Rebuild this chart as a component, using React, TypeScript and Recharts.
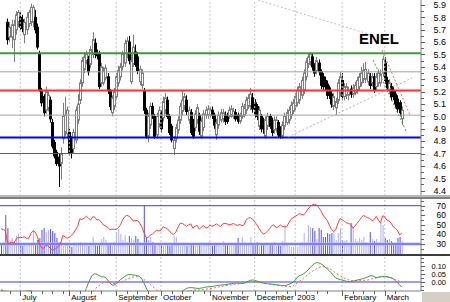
import React from 'react';
import { ComposedChart, Bar, Line, XAxis, YAxis, ReferenceLine, Cell } from 'recharts';

// ---------- DATA ----------
// candles: [open, high, low, close]
const juneBars = [
  [6.02, 6.06, 5.97, 5.99], [5.99, 6.03, 5.96, 6.0], [6.0, 6.02, 5.95, 5.96],
  [5.76, 5.79, 5.58, 5.62], [5.64, 5.76, 5.6, 5.72], [5.64, 5.78, 5.55, 5.74],
  [5.62, 5.78, 5.44, 5.74], [5.7, 5.85, 5.66, 5.82], [5.76, 5.86, 5.72, 5.84],
];
const julyBars = [
  [5.8, 5.84, 5.7, 5.72], [5.78, 5.82, 5.68, 5.71], [5.66, 5.79, 5.59, 5.76], [5.7, 5.84, 5.66, 5.8],
  [5.75, 5.86, 5.72, 5.84], [5.76, 5.91, 5.73, 5.88], [5.76, 5.9, 5.72, 5.88], [5.8, 5.86, 5.67, 5.7],
  [5.72, 5.75, 5.54, 5.56], [5.5, 5.53, 5.2, 5.22], [5.21, 5.23, 5.08, 5.11], [5.16, 5.18, 5.0, 5.03],
  [5.05, 5.24, 5.02, 5.2], [5.07, 5.2, 5.04, 5.17], [5.13, 5.16, 4.95, 4.98], [4.95, 4.98, 4.74, 4.76],
  [4.79, 4.81, 4.66, 4.68], [4.71, 4.73, 4.6, 4.62], [4.67, 4.7, 4.43, 4.6], [4.62, 4.75, 4.49, 4.7],
  [4.82, 5.11, 4.78, 5.0], [4.87, 5.16, 4.84, 5.01], [4.86, 5.08, 4.82, 5.05],
];
const augBars = [
  [4.87, 4.9, 4.68, 4.71], [4.81, 4.84, 4.66, 4.71], [4.74, 4.9, 4.7, 4.87], [4.81, 5.08, 4.78, 5.05],
  [4.97, 5.18, 4.94, 5.1], [5.13, 5.3, 5.1, 5.27], [5.27, 5.48, 5.24, 5.45], [5.38, 5.52, 5.35, 5.48],
  [5.45, 5.53, 5.42, 5.5], [5.46, 5.49, 5.33, 5.36], [5.42, 5.57, 5.39, 5.54], [5.5, 5.68, 5.47, 5.62],
  [5.59, 5.63, 5.47, 5.5], [5.51, 5.54, 5.46, 5.49], [5.51, 5.53, 5.22, 5.24], [5.27, 5.43, 5.24, 5.4],
  [5.27, 5.4, 5.25, 5.37], [5.31, 5.42, 5.29, 5.39], [5.32, 5.35, 5.18, 5.21], [5.2, 5.22, 5.05, 5.08],
  [5.03, 5.17, 5.0, 5.15], [5.08, 5.23, 5.05, 5.2],
];
const sepBars = [
  [5.16, 5.35, 5.13, 5.32], [5.27, 5.41, 5.24, 5.37], [5.32, 5.43, 5.29, 5.4], [5.4, 5.53, 5.37, 5.5],
  [5.43, 5.62, 5.4, 5.59], [5.5, 5.64, 5.47, 5.61], [5.6, 5.65, 5.42, 5.45], [5.28, 5.5, 5.26, 5.45],
  [5.42, 5.66, 5.4, 5.56], [5.52, 5.58, 5.4, 5.42], [5.48, 5.52, 5.34, 5.37], [5.28, 5.41, 5.25, 5.38],
  [5.25, 5.38, 5.22, 5.35], [5.2, 5.23, 5.02, 5.05], [5.05, 5.07, 4.82, 4.84], [4.84, 5.03, 4.79, 5.0],
  [4.93, 5.11, 4.9, 5.08], [5.08, 5.11, 4.98, 5.01], [5.0, 5.02, 4.82, 4.84], [4.85, 5.03, 4.82, 5.0],
  [4.94, 5.08, 4.91, 5.05],
];
const octBars = [
  [5.02, 5.05, 4.87, 4.9], [4.99, 5.16, 4.96, 5.12], [5.05, 5.19, 5.02, 5.15], [5.13, 5.16, 4.98, 5.0],
  [5.0, 5.02, 4.85, 4.87], [4.92, 4.94, 4.79, 4.81], [4.74, 4.84, 4.69, 4.81], [4.82, 4.94, 4.79, 4.91],
  [4.89, 5.0, 4.86, 4.97], [4.97, 5.11, 4.94, 5.08], [5.04, 5.21, 5.01, 5.13], [5.08, 5.19, 5.05, 5.16],
  [5.13, 5.17, 5.01, 5.04], [4.97, 5.08, 4.94, 5.05], [5.03, 5.06, 4.85, 4.87], [4.95, 4.98, 4.82, 4.84],
  [4.91, 5.05, 4.88, 5.02], [4.97, 5.1, 4.94, 5.07], [5.01, 5.03, 4.85, 4.88], [4.84, 4.99, 4.82, 4.96],
  [4.91, 5.05, 4.88, 5.02], [5.01, 5.08, 4.98, 5.05], [5.01, 5.09, 4.98, 5.06],
];
const novBars = [
  [5.01, 5.08, 4.99, 5.05], [5.05, 5.08, 4.98, 5.01], [5.01, 5.03, 4.9, 4.93], [4.85, 4.98, 4.81, 4.95],
  [4.93, 5.04, 4.9, 5.01], [4.97, 5.06, 4.95, 5.03], [4.98, 5.06, 4.95, 5.03], [5.01, 5.04, 4.93, 4.96],
  [5.0, 5.03, 4.94, 4.96], [5.0, 5.08, 4.98, 5.05], [5.01, 5.09, 4.99, 5.06], [5.0, 5.07, 4.98, 5.04],
  [5.03, 5.06, 4.96, 4.98], [5.01, 5.03, 4.94, 4.96], [4.96, 5.03, 4.94, 5.0], [5.0, 5.11, 4.98, 5.08],
  [5.01, 5.1, 4.99, 5.07], [5.05, 5.16, 5.02, 5.13], [5.08, 5.18, 5.06, 5.15], [5.08, 5.23, 5.05, 5.18],
  [5.15, 5.19, 5.03, 5.06],
];
const decBars = [
  [5.11, 5.14, 4.99, 5.01], [5.08, 5.1, 4.97, 5.0], [4.92, 5.08, 4.89, 5.05], [5.0, 5.02, 4.87, 4.9],
  [4.97, 4.99, 4.86, 4.9], [4.84, 5.0, 4.82, 4.97], [4.92, 5.03, 4.89, 5.0], [5.0, 5.02, 4.9, 4.92],
  [4.96, 4.99, 4.84, 4.87], [4.89, 5.0, 4.86, 4.97], [4.9, 5.0, 4.87, 4.97], [4.95, 4.97, 4.83, 4.85],
  [4.9, 4.92, 4.82, 4.84], [4.84, 4.96, 4.82, 4.93], [4.92, 5.03, 4.89, 5.0], [4.95, 5.06, 4.93, 5.03],
  [4.97, 5.08, 4.94, 5.05], [5.01, 5.12, 4.98, 5.09], [5.04, 5.14, 5.02, 5.11],
];
const janBars = [
  [5.08, 5.19, 5.05, 5.16], [5.11, 5.24, 5.08, 5.21], [5.13, 5.27, 5.1, 5.24], [5.17, 5.32, 5.14, 5.29],
  [5.21, 5.38, 5.18, 5.35], [5.32, 5.47, 5.29, 5.44], [5.42, 5.51, 5.39, 5.48], [5.44, 5.52, 5.41, 5.5],
  [5.48, 5.51, 5.37, 5.4], [5.4, 5.43, 5.32, 5.35], [5.37, 5.48, 5.34, 5.45], [5.43, 5.46, 5.33, 5.36],
  [5.36, 5.38, 5.22, 5.25], [5.32, 5.35, 5.21, 5.24], [5.29, 5.32, 5.21, 5.24], [5.26, 5.29, 5.14, 5.17],
  [5.23, 5.25, 5.14, 5.17], [5.18, 5.21, 5.07, 5.1], [5.08, 5.19, 5.05, 5.16], [5.07, 5.15, 5.01, 5.12],
  [5.13, 5.3, 5.1, 5.27], [5.19, 5.36, 5.16, 5.32],
];
const febBars = [
  [5.29, 5.35, 5.13, 5.16], [5.16, 5.27, 5.13, 5.24], [5.17, 5.27, 5.14, 5.24], [5.17, 5.24, 5.13, 5.21],
  [5.22, 5.25, 5.15, 5.18], [5.18, 5.26, 5.15, 5.23], [5.19, 5.28, 5.17, 5.25], [5.21, 5.32, 5.18, 5.29],
  [5.24, 5.35, 5.21, 5.32], [5.27, 5.4, 5.24, 5.35], [5.3, 5.43, 5.27, 5.37], [5.3, 5.44, 5.27, 5.38],
  [5.28, 5.38, 5.25, 5.35], [5.32, 5.35, 5.22, 5.25], [5.27, 5.35, 5.24, 5.32], [5.32, 5.35, 5.19, 5.21],
  [5.24, 5.35, 5.21, 5.32], [5.27, 5.38, 5.24, 5.35], [5.27, 5.38, 5.24, 5.34], [5.35, 5.49, 5.32, 5.46],
];
const marBars = [
  [5.43, 5.48, 5.26, 5.29], [5.29, 5.32, 5.2, 5.23], [5.21, 5.3, 5.18, 5.27], [5.24, 5.27, 5.13, 5.16],
  [5.21, 5.24, 5.13, 5.16], [5.18, 5.21, 5.07, 5.1], [5.14, 5.17, 5.03, 5.06], [5.11, 5.13, 5.0, 5.03],
  [4.98, 5.08, 4.93, 5.05],
];

const volume = [
  10, 12, 39, 26, 14, 16, 13, 18, 20, 9, 8, 10, 8, 9, 11, 23, 10, 14, 16, 24,
  26, 22, 24, 25, 23, 21, 16, 12, 9, 8, 10, 9, 10, 7, 9, 10, 9, 12, 10, 9,
  11, 8, 10, 17, 9, 8, 10, 15, 17, 14, 9, 10, 8, 12, 22, 25, 20, 14, 19, 12,
  18, 16, 14, 18, 15, 12, 10, 48, 16, 14, 17, 12, 9, 8, 10, 9, 8, 9, 11, 8,
  10, 18, 17, 9, 8, 10, 9, 8, 11, 9, 10, 8, 9, 11, 8, 10, 9, 12, 10, 8,
  9, 10, 9, 8, 13, 9, 10, 8, 9, 10, 10, 16, 11, 17, 12, 10, 11, 17, 10, 9,
  12, 8, 10, 9, 11, 8, 10, 9, 12, 8, 9, 8, 13, 29, 10, 8, 7, 7, 8, 7,
  11, 12, 21, 12, 29, 27, 26, 23, 15, 26, 24, 17, 17, 21, 20, 21, 22, 14, 21, 26,
  14, 13, 14, 9, 31, 26, 15, 13, 16, 14, 17, 12, 11, 22, 15, 13, 15, 12, 31, 29,
  16, 14, 15, 13, 9, 10, 16, 17, 13,
];

const rsi = [
  46, 45, 44, 31, 31, 32, 31, 35, 37, 36.5, 37, 37.5, 36, 36, 41, 44, 42.5, 38, 30, 26,
  25.5, 28.5, 28, 25.5, 24, 24, 25.5, 28, 31, 39, 37.5, 36, 37, 39, 41.5, 45, 49, 56.5, 55.5, 57,
  59, 57, 55, 58.5, 58, 55, 55.5, 53, 49.8, 49, 47.5, 45, 45.5, 45.5, 45, 47, 50, 55, 58.5, 60,
  59, 57, 54, 54.5, 54.5, 52, 48, 42, 37, 36.5, 39.4, 40.5, 42.5, 44.5, 43.5, 44.5, 48, 47, 46, 43.5,
  41, 40, 42.5, 47.5, 51.6, 51.6, 50, 48.5, 50, 51, 46.5, 48.5, 49.5, 45.5, 47.5, 49.5, 47, 47, 49.8, 48.5,
  49.5, 51, 49.5, 48.2, 51, 51.6, 51, 50, 50.5, 51.5, 50, 49.5, 50.5, 49, 50, 55.5, 57, 57.5, 56, 53,
  50, 46.5, 43, 40.2, 41.5, 43.3, 46, 49.2, 50, 47, 47.8, 49.8, 48.3, 48, 48.1, 52, 55.8, 57.5, 59, 60.3,
  61.7, 60.8, 60.5, 63.3, 66.5, 69, 71, 71.3, 70.8, 68, 65, 60.2, 57.5, 54.5, 49.7, 45.2, 43, 45, 51, 56.5,
  55.5, 53.8, 52, 51.6, 50.5, 46.5, 48.8, 51.6, 54.3, 57.6, 60, 58.5, 57.4, 56.8, 54.3, 55.5, 58.8, 55, 52, 59.5,
  58.5, 55, 54, 51.8, 48, 46.3, 44, 39.5, 41.5,
];

const macd = [
  -0.05, -0.055, -0.06, -0.065, -0.07, -0.07, -0.07, -0.068, -0.065, -0.063,
  -0.06, -0.058, -0.056, -0.055, -0.055, -0.06, -0.07, -0.085, -0.1, -0.12,
  -0.14, -0.155, -0.17, -0.185, -0.2, -0.21, -0.215, -0.21, -0.2, -0.19,
  -0.18, -0.17, -0.16, -0.15, -0.14, -0.13, -0.12, -0.105, -0.09, -0.07,
  -0.04, -0.005, 0.025, 0.045, 0.052, 0.048, 0.04, 0.033, 0.032, 0.028,
  0.012, -0.005, -0.018, -0.02, -0.01, 0.002, 0.015, 0.025, 0.035, 0.043,
  0.046, 0.046, 0.044, 0.042, 0.04, 0.034, 0.02, -0.005, -0.035, -0.06,
  -0.08, -0.095, -0.1, -0.1, -0.1, -0.098, -0.095, -0.095, -0.095, -0.092,
  -0.09, -0.085, -0.08, -0.07, -0.063, -0.056, -0.048, -0.04, -0.036, -0.035,
  -0.036, -0.038, -0.04, -0.04, -0.038, -0.035, -0.032, -0.03, -0.03, -0.028,
  -0.025, -0.023, -0.021, -0.02, -0.018, -0.017, -0.015, -0.012, -0.01, -0.008,
  -0.007, -0.007, -0.008, -0.008, -0.008, -0.002, 0.005, 0.01, 0.0125, 0.011,
  0.006, 0.001, -0.003, -0.007, -0.009, -0.011, -0.013, -0.014, -0.015, -0.017,
  -0.019, -0.021, -0.023, -0.022, -0.02, -0.015, -0.008, -0.002, 0.012, 0.03,
  0.04, 0.045, 0.052, 0.062, 0.075, 0.09, 0.104, 0.115, 0.121, 0.12,
  0.114, 0.106, 0.093, 0.082, 0.07, 0.056, 0.04, 0.025, 0.02, 0.015,
  0.0125, 0.008, 0.005, 0.003, 0.002, 0.004, 0.008, 0.012, 0.015, 0.018,
  0.022, 0.026, 0.032, 0.038, 0.04, 0.034, 0.027, 0.03, 0.033, 0.034,
  0.034, 0.033, 0.03, 0.026, 0.02, 0.008, -0.002, -0.02, -0.03,
];

const signal = [
  -0.05, -0.052, -0.055, -0.057, -0.06, -0.062, -0.064, -0.065, -0.065, -0.065,
  -0.064, -0.063, -0.062, -0.061, -0.06, -0.06, -0.062, -0.066, -0.072, -0.08,
  -0.09, -0.1, -0.11, -0.12, -0.13, -0.14, -0.15, -0.158, -0.165, -0.17,
  -0.172, -0.172, -0.17, -0.167, -0.163, -0.158, -0.152, -0.145, -0.135, -0.122,
  -0.108, -0.092, -0.076, -0.06, -0.046, -0.033, -0.021, -0.012, -0.005, -0.001,
  0.0, -0.003, -0.008, -0.01, -0.008, -0.004, 0.0, 0.005, 0.011, 0.017,
  0.023, 0.028, 0.032, 0.033, 0.032, 0.03, 0.024, 0.016, 0.006, -0.005,
  -0.015, -0.027, -0.038, -0.05, -0.058, -0.065, -0.07, -0.074, -0.077, -0.079,
  -0.08, -0.08, -0.079, -0.077, -0.074, -0.07, -0.065, -0.06, -0.056, -0.053,
  -0.051, -0.05, -0.05, -0.05, -0.049, -0.047, -0.045, -0.043, -0.041, -0.04,
  -0.037, -0.034, -0.031, -0.028, -0.026, -0.024, -0.022, -0.02, -0.018, -0.015,
  -0.013, -0.012, -0.011, -0.01, -0.008, -0.005, -0.002, 0.001, 0.002, 0.002,
  0.001, -0.001, -0.003, -0.006, -0.008, -0.01, -0.012, -0.014, -0.016, -0.018,
  -0.02, -0.022, -0.024, -0.026, -0.028, -0.029, -0.03, -0.024, -0.014, -0.005,
  0.005, 0.015, 0.025, 0.036, 0.047, 0.058, 0.067, 0.075, 0.083, 0.09,
  0.095, 0.096, 0.094, 0.09, 0.083, 0.075, 0.066, 0.056, 0.047, 0.039,
  0.032, 0.024, 0.019, 0.014, 0.01, 0.008, 0.007, 0.006, 0.007, 0.008,
  0.01, 0.011, 0.0125, 0.016, 0.02, 0.023, 0.026, 0.028, 0.03, 0.032,
  0.033, 0.033, 0.031, 0.027, 0.021, 0.016, 0.01, 0.004, -0.002,
];

const monthLabels = ['July', 'August', 'September', 'October', 'November', 'December', '2003', 'February', 'March'];
const monthStarts = [9, 32, 54, 75, 98, 119, 138, 160, 180];
const weekTicks = [4, 9, 14, 19, 24, 29, 32, 37, 42, 47, 54, 59, 64, 69, 75, 80, 85, 90, 95, 98, 103, 108, 113, 119, 124, 129, 134, 138, 143, 148, 153, 160, 165, 170, 175, 180, 185];

const priceTicks = [4.4, 4.45, 4.5, 4.55, 4.6, 4.65, 4.7, 4.75, 4.8, 4.85, 4.9, 4.95, 5.0, 5.05, 5.1, 5.15, 5.2, 5.25, 5.3, 5.35, 5.4, 5.45, 5.5, 5.55, 5.6, 5.65, 5.7, 5.75, 5.8, 5.85, 5.9];
const priceLabels = [4.4, 4.5, 4.6, 4.7, 4.8, 4.9, 5.0, 5.1, 5.2, 5.3, 5.4, 5.5, 5.6, 5.7, 5.8, 5.9];
const rsiTicks = [25, 30, 35, 40, 45, 50, 55, 60, 65, 70, 75];
const rsiLabels = [30, 40, 50, 60, 70];
const macdTicks = [-0.05, -0.025, 0, 0.025, 0.05, 0.075, 0.1, 0.125, 0.15];
const macdLabels = [0, 0.05, 0.1];

// horizontal support / resistance levels
const resistanceHigh = 5.51;
const grayUpper = 5.36;
const resistanceLow = 5.21;
const grayLower = 5.01;
const supportHigh = 4.83;
const supportLow = 4.7;
// trend lines [x1, y1, x2, y2] in (bar index, price)
const trendDown = [120.5, 5.94, 173.1, 5.661];
const trendUp = [134.6, 4.833, 192.8, 5.31];
const fanGreen = [174.5, 5.455, 190.4, 4.866];
const fanRed = [178.7, 5.536, 191.8, 5.011];

// ---------- BUILD ----------
const allBars = [...juneBars, ...julyBars, ...augBars, ...sepBars, ...octBars, ...novBars, ...decBars, ...janBars, ...febBars, ...marBars];
const data = allBars.map((b, i) => ({
  i, o: b[0], h: b[1], l: b[2], c: b[3], range: [b[2], b[1]],
  vol: volume[i], rsi: rsi[i], macd: macd[i], sig: signal[i],
}));

const X_DOMAIN: [number, number] = [-0.5, 197];
const FONT = '"Liberation Sans", Arial, sans-serif';
const AXIS_X = 421;

const Candle = (props: any) => {
  const { x, y, width, height, payload } = props;
  if (!payload) return null;
  const { o, h, l, c } = payload;
  const top = Math.min(y, y + height);
  const bot = Math.max(y, y + height);
  const span = h - l || 1;
  const py = (v: number) => bot - ((v - l) / span) * (bot - top);
  const cx = Math.round(x + width / 2) + 0.5;
  const up = c >= o;
  const col = up ? '#7c7c7c' : '#000000';
  const yo = py(o);
  const yc = py(c);
  const bt = Math.min(yo, yc);
  const bh = Math.max(1, Math.abs(yo - yc));
  return (
    <g>
      <line x1={cx} x2={cx} y1={top} y2={bot} stroke={col} strokeWidth={1} />
      <rect x={cx - 1} y={bt} width={2} height={bh} fill={up ? '#ffffff' : '#000000'} stroke={col} strokeWidth={1} />
    </g>
  );
};

const makeRightTick = (labels: number[], digits: number, fs: number) => (p: any) => {
  const v = p.payload.value;
  const isLabel = labels.some((l) => Math.abs(l - v) < 1e-6);
  const yy = Math.round(p.y) + 0.5;
  return (
    <g>
      <line x1={AXIS_X} x2={AXIS_X + (isLabel ? 4 : 3)} y1={yy} y2={yy} stroke="#606060" strokeWidth={1} />
      {isLabel && (
        <text x={446} y={p.y + fs * 0.36} textAnchor="end" fontSize={fs} fontFamily={FONT} fill="#000">
          {v.toFixed(digits)}
        </text>
      )}
    </g>
  );
};

const XTick = (p: any) => {
  const v = p.payload.value;
  const mi = monthStarts.indexOf(v);
  const xx = Math.round(p.x) + 0.5;
  return (
    <g>
      <line x1={xx} x2={xx} y1={35} y2={mi >= 0 ? 40 : 38} stroke="#606060" strokeWidth={1} />
      {mi >= 0 && (
        <text x={p.x + 2} y={44} textAnchor="start" fontSize={8} fontFamily={FONT} fill="#000">
          {monthLabels[mi]}
        </text>
      )}
    </g>
  );
};

const monthGrid = (yAxisId?: string) =>
  monthStarts.map((m) => (
    <ReferenceLine key={'g' + m} x={m} yAxisId={yAxisId} stroke="#c4c4c4" strokeDasharray="2 2" strokeWidth={1} />
  ));

const seg = (t: number[], color: string, key: string) => (
  <ReferenceLine
    key={key}
    segment={[{ x: t[0], y: t[1] }, { x: t[2], y: t[3] }]}
    stroke={color}
    strokeDasharray="2 2"
    strokeWidth={1}
    ifOverflow="hidden"
  />
);

export default function App() {
  return (
    <div style={{ position: 'absolute', left: 0, top: 0, width: 450, height: 302, background: '#fff', overflow: 'hidden', fontFamily: FONT }}>
      {/* Price panel */}
      <div style={{ position: 'absolute', left: 0, top: 0 }}>
        <ComposedChart width={450} height={196} data={data} margin={{ top: 0, right: 0, bottom: 0, left: 0 }}>
          <XAxis dataKey="i" type="number" domain={X_DOMAIN} allowDataOverflow hide />
          <YAxis
            orientation="right"
            width={29}
            domain={[4.357, 5.94]}
            allowDataOverflow
            ticks={priceTicks}
            interval={0}
            tickLine={false}
            axisLine={{ stroke: '#808080' }}
            tick={makeRightTick(priceLabels, 1, 9)}
          />
          {monthGrid()}
          <Bar dataKey="range" barSize={3} shape={<Candle />} isAnimationActive={false} />
          <ReferenceLine y={resistanceHigh} stroke="#3c9c3c" strokeWidth={2} />
          <ReferenceLine y={grayUpper} stroke="#a4a4a4" strokeWidth={1} />
          <ReferenceLine y={resistanceLow} stroke="#ff3030" strokeWidth={2} />
          <ReferenceLine y={grayLower} stroke="#a4a4a4" strokeWidth={1} />
          <ReferenceLine y={supportHigh} stroke="#0000ff" strokeWidth={2} />
          <ReferenceLine y={supportLow} stroke="#4646ff" strokeWidth={1} />
          {seg(trendDown, '#bdbdbd', 't1')}
          {seg(trendUp, '#b4b4b4', 't2')}
          {seg(fanGreen, '#3ca03c', 't3')}
          {seg(fanRed, '#ff6060', 't4')}
        </ComposedChart>
      </div>
      <svg style={{ position: 'absolute', left: 0, top: 0 }} width={450} height={60}>
        <text x={359} y={44} fontSize={15} fontWeight="bold" fontFamily={FONT} fill="#000">ENEL</text>
      </svg>

      {/* separator */}
      <div style={{ position: 'absolute', left: 0, top: 195, width: 450, height: 2, background: '#b8b8b8' }} />
      <div style={{ position: 'absolute', left: 0, top: 197, width: 450, height: 2, background: '#808080' }} />

      {/* RSI + volume panel */}
      <div style={{ position: 'absolute', left: 0, top: 199 }}>
        <ComposedChart width={450} height={55} data={data} margin={{ top: 0, right: 0, bottom: 0, left: 0 }}>
          <XAxis dataKey="i" type="number" domain={X_DOMAIN} allowDataOverflow hide />
          <YAxis
            yAxisId="rsi"
            orientation="right"
            width={29}
            domain={[19.56, 77.0]}
            allowDataOverflow
            ticks={rsiTicks}
            interval={0}
            tickLine={false}
            axisLine={{ stroke: '#808080' }}
            tick={makeRightTick(rsiLabels, 0, 8.5)}
          />
          <YAxis yAxisId="vol" hide domain={[0, 55]} allowDataOverflow />
          {monthGrid('rsi')}
          <Bar yAxisId="vol" dataKey="vol" barSize={1} isAnimationActive={false}>
            {data.map((d) => (
              <Cell key={d.i} fill={d.c < d.o ? '#5050f0' : '#aeaef4'} />
            ))}
          </Bar>
          <ReferenceLine yAxisId="rsi" y={30} stroke="#bcbcff" strokeWidth={3} />
          <ReferenceLine yAxisId="rsi" y={30} stroke="#4040ff" strokeWidth={1} />
          <ReferenceLine yAxisId="rsi" y={70} stroke="#3838ff" strokeWidth={1} />
          <Line yAxisId="rsi" dataKey="rsi" stroke="#ff3c3c" strokeWidth={1} dot={false} isAnimationActive={false} />
        </ComposedChart>
      </div>

      <div style={{ position: 'absolute', left: 0, top: 254, width: 450, height: 2, background: '#3c3c3c' }} />

      {/* MACD panel */}
      <div style={{ position: 'absolute', left: 0, top: 256 }}>
        <ComposedChart width={450} height={46} data={data} margin={{ top: 0, right: 0, bottom: 0, left: 0 }}>
          <XAxis
            dataKey="i"
            type="number"
            domain={X_DOMAIN}
            allowDataOverflow
            ticks={weekTicks}
            interval={0}
            height={11}
            tickLine={false}
            axisLine={{ stroke: '#808080' }}
            tick={<XTick />}
          />
          <YAxis
            orientation="right"
            width={29}
            domain={[-0.0563, 0.1625]}
            allowDataOverflow
            ticks={macdTicks}
            interval={0}
            tickLine={false}
            axisLine={{ stroke: '#808080' }}
            tick={makeRightTick(macdLabels, 2, 7.5)}
          />
          {monthGrid()}
          <ReferenceLine y={0} stroke="#3838ff" strokeWidth={1} />
          <Line dataKey="sig" stroke="#ff5a5a" strokeWidth={1} strokeDasharray="2 2" dot={false} isAnimationActive={false} />
          <Line dataKey="macd" stroke="#36a036" strokeWidth={1} dot={false} isAnimationActive={false} />
        </ComposedChart>
      </div>

      <div style={{ position: 'absolute', left: 422, top: 292, width: 28, height: 10, background: '#d4d0c8' }} />
    </div>
  );
}
